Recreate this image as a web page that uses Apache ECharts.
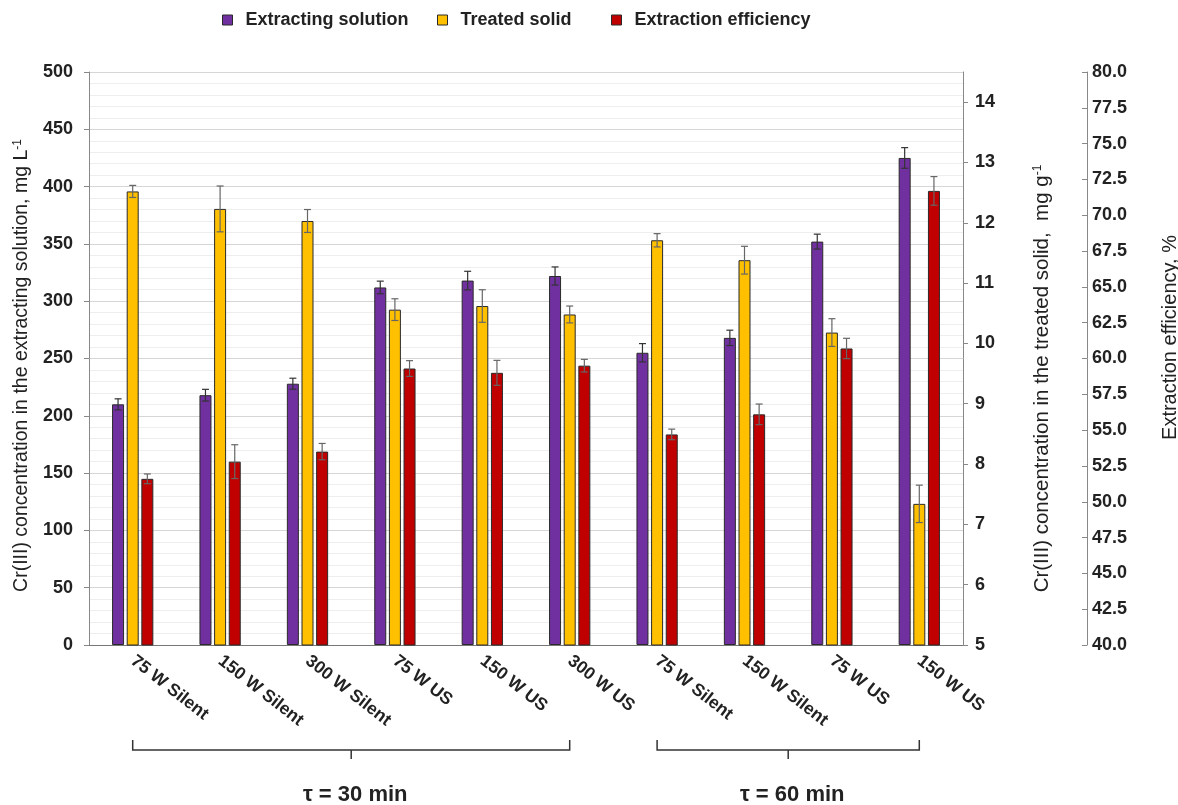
<!DOCTYPE html>
<html>
<head>
<meta charset="utf-8">
<script src="https://cdn.jsdelivr.net/npm/echarts@6/dist/echarts.min.js"></script>
<style>
  html, body { margin: 0; padding: 0; background: #fff; }
  #chart { width: 1178px; height: 805px; }
</style>
</head>
<body>
<div id="chart"></div>
<script>
// Sample conditions (x axis)
const categories = ['75 W Silent', '150 W Silent', '300 W Silent', '75 W US', '150 W US', '300 W US',
                    '75 W Silent', '150 W Silent', '75 W US', '150 W US'];

// Cr(III) in the extracting solution, mg L-1 (left axis)
const solution    = [210, 218, 228, 312, 318, 322, 255, 268, 352, 425];
const solutionErr = [4.8, 5.1, 4.8, 5.5, 8.1, 7.9, 8.0, 6.7, 6.5, 9.0];

// Cr(III) in the treated solid, mg g-1 (first right axis)
const solid    = [12.52, 12.23, 12.03, 10.56, 10.62, 10.48, 11.71, 11.38, 10.18, 7.34];
const solidErr = [0.10, 0.38, 0.19, 0.18, 0.27, 0.14, 0.11, 0.23, 0.23, 0.31];

// Extraction efficiency, % (second right axis)
const efficiency    = [51.6, 52.8, 53.5, 59.3, 59.0, 59.5, 54.7, 56.1, 60.7, 71.7];
const efficiencyErr = [0.34, 1.18, 0.57, 0.55, 0.87, 0.44, 0.37, 0.72, 0.71, 1.0];

// Tick values of the treated-solid axis
const solidTicks = [5, 6, 7, 8, 9, 10, 11, 12, 13, 14];

// Series names, in legend order
const seriesNames = ['Extracting solution', 'Treated solid', 'Extraction efficiency'];

// Time groups drawn as braces below the category labels
const groups = [
  { label: 'τ = 30 min', from: 0, to: 5 },
  { label: 'τ = 60 min', from: 6, to: 9 }
];

const FONT = '"Liberation Sans", Arial, sans-serif';
const INK = '#222';
const BAR_W = 12;
const BAR_GAP = 0.22;   // fraction of bar width
const CAP = 3.5;
const COLORS = ['#7030a0', '#ffc000', '#c00000'];

function errorBars(values, errs, yAxisIndex, slot, color) {
  return {
    type: 'custom',
    xAxisIndex: 0,
    yAxisIndex: yAxisIndex,
    silent: true,
    z: 5,
    data: values.map((v, i) => [i, v, errs[i]]),
    encode: { x: 0, y: 1 },
    renderItem(params, api) {
      const i = api.value(0), v = api.value(1), e = api.value(2);
      const off = slot * (BAR_W + BAR_W * BAR_GAP);
      const hi = api.coord([i, v + e]);
      const lo = api.coord([i, v - e]);
      const x = hi[0] + off;
      const st = { stroke: color, lineWidth: 1.2 };
      return {
        type: 'group',
        children: [
          { type: 'line', shape: { x1: x, y1: hi[1], x2: x, y2: lo[1] }, style: st },
          { type: 'line', shape: { x1: x - CAP, y1: hi[1], x2: x + CAP, y2: hi[1] }, style: st },
          { type: 'line', shape: { x1: x - CAP, y1: lo[1], x2: x + CAP, y2: lo[1] }, style: st }
        ]
      };
    }
  };
}

function axisName(text, sup, size, padding) {
  return {
    name: '{t|' + text + '}{s|' + sup + '}',
    nameTextStyle: {
      padding: padding,
      rich: {
        t: { fontFamily: FONT, fontSize: size, color: INK },
        s: { fontFamily: FONT, fontSize: 12, color: INK, verticalAlign: 'top' }
      }
    }
  };
}

function legendAt(left, name) {
  return {
    top: 11,
    left: left,
    padding: 0,
    icon: 'rect',
    itemWidth: 10,
    itemHeight: 10,
    data: [name],
    itemStyle: { borderColor: '#2a2a2a', borderWidth: 1 },
    textStyle: { fontFamily: FONT, fontSize: 18, fontWeight: 'bold', color: INK, padding: [0, 0, 0, 8] }
  };
}

const chart = echarts.init(document.getElementById('chart'), null, { renderer: 'canvas' });

const barStyle = (c) => ({ color: c, borderColor: '#2a2a2a', borderWidth: 1 });
const tickLabel = { fontFamily: FONT, fontSize: 18, fontWeight: 'bold', color: INK };

const option = {
  animation: false,
  backgroundColor: '#fff',
  textStyle: { fontFamily: FONT },
  legend: [
    legendAt(222, seriesNames[0]),
    legendAt(437, seriesNames[1]),
    legendAt(611, seriesNames[2])
  ],
  grid: { left: 89, right: 215, top: 72, bottom: 160, outerBoundsMode: 'none', containLabel: false },
  xAxis: {
    type: 'category',
    data: categories,
    axisLine: { lineStyle: { color: '#777', width: 1.2 } },
    axisTick: { show: false },
    axisLabel: Object.assign({ rotate: -38, margin: 14 }, tickLabel, { fontSize: 17.5 })
  },
  yAxis: [
    Object.assign({
      type: 'value',
      position: 'left',
      min: 0, max: 500, interval: 50,
      nameLocation: 'middle',
      nameGap: 57,
      nameRotate: 90,
      axisLine: { show: true, lineStyle: { color: '#888' } },
      axisTick: { show: true, inside: false, length: 5, lineStyle: { color: '#888' } },
      axisLabel: Object.assign({ margin: 16 }, tickLabel),
      splitLine: { show: true, lineStyle: { color: '#d6d6d6', width: 1.2 } },
      minorTick: { show: false, splitNumber: 5 },
      minorSplitLine: { show: true, lineStyle: { color: '#eeeeee', width: 1 } }
    }, axisName('Cr(III) concentration in the extracting solution, mg L', '-1', 19.5, [0, 14, 0, 0])),
    Object.assign({
      type: 'value',
      position: 'right',
      min: 5, max: 14.5,
      nameLocation: 'middle',
      nameGap: 69,
      nameRotate: 90,
      axisLine: { show: true, lineStyle: { color: '#888' } },
      axisTick: { show: true, inside: false, length: 5, customValues: solidTicks, lineStyle: { color: '#888' } },
      axisLabel: Object.assign({ customValues: solidTicks, margin: 12 }, tickLabel),
      splitLine: { show: false }
    }, axisName('Cr(III) concentration in the treated solid,  mg g', '-1', 20.5, [0, 40, 0, 0])),
    {
      type: 'value',
      position: 'right',
      offset: 124,
      min: 40, max: 80, interval: 2.5,
      name: 'Extraction efficiency, %',
      nameLocation: 'middle',
      nameGap: 73,
      nameRotate: 90,
      nameTextStyle: { fontFamily: FONT, fontSize: 20, color: INK, padding: [0, 0, 0, 42] },
      axisLine: { show: true, lineStyle: { color: '#888' } },
      axisTick: { show: true, inside: true, length: 5, lineStyle: { color: '#888' } },
      axisLabel: Object.assign({ margin: 5, formatter: (v) => v.toFixed(1) }, tickLabel),
      splitLine: { show: false }
    }
  ],
  series: [
    { name: seriesNames[0], type: 'bar', yAxisIndex: 0, data: solution,
      barWidth: BAR_W, barGap: (BAR_GAP * 100) + '%', itemStyle: barStyle(COLORS[0]) },
    { name: seriesNames[1], type: 'bar', yAxisIndex: 1, data: solid,
      barWidth: BAR_W, barGap: (BAR_GAP * 100) + '%', itemStyle: barStyle(COLORS[1]) },
    { name: seriesNames[2], type: 'bar', yAxisIndex: 2, data: efficiency,
      barWidth: BAR_W, barGap: (BAR_GAP * 100) + '%', itemStyle: barStyle(COLORS[2]) },
    errorBars(solution, solutionErr, 0, -1, '#333'),
    errorBars(solid, solidErr, 1, 0, '#666'),
    errorBars(efficiency, efficiencyErr, 2, 1, '#666')
  ]
};

chart.setOption(option);

// Braces grouping the categories by extraction time
const BRACE_Y = 750, BRACE_UP = 10, BRACE_DOWN = 9, LABEL_Y = 795;
const braceStyle = { stroke: '#333', lineWidth: 1.5, fill: null };
const graphics = [];
groups.forEach((g) => {
  const x1 = chart.convertToPixel({ xAxisIndex: 0 }, g.from);
  const x2 = chart.convertToPixel({ xAxisIndex: 0 }, g.to);
  const xm = (x1 + x2) / 2;
  graphics.push({
    type: 'polyline',
    shape: { points: [[x1, BRACE_Y - BRACE_UP], [x1, BRACE_Y], [x2, BRACE_Y], [x2, BRACE_Y - BRACE_UP]] },
    style: braceStyle
  });
  graphics.push({
    type: 'line',
    shape: { x1: xm, y1: BRACE_Y, x2: xm, y2: BRACE_Y + BRACE_DOWN },
    style: braceStyle
  });
  graphics.push({
    type: 'text',
    x: xm + 4, y: LABEL_Y,
    style: {
      text: g.label, fill: INK,
      font: 'bold 22px ' + FONT,
      align: 'center', verticalAlign: 'middle'
    }
  });
});
chart.setOption({ graphic: graphics });
</script>
</body>
</html>
